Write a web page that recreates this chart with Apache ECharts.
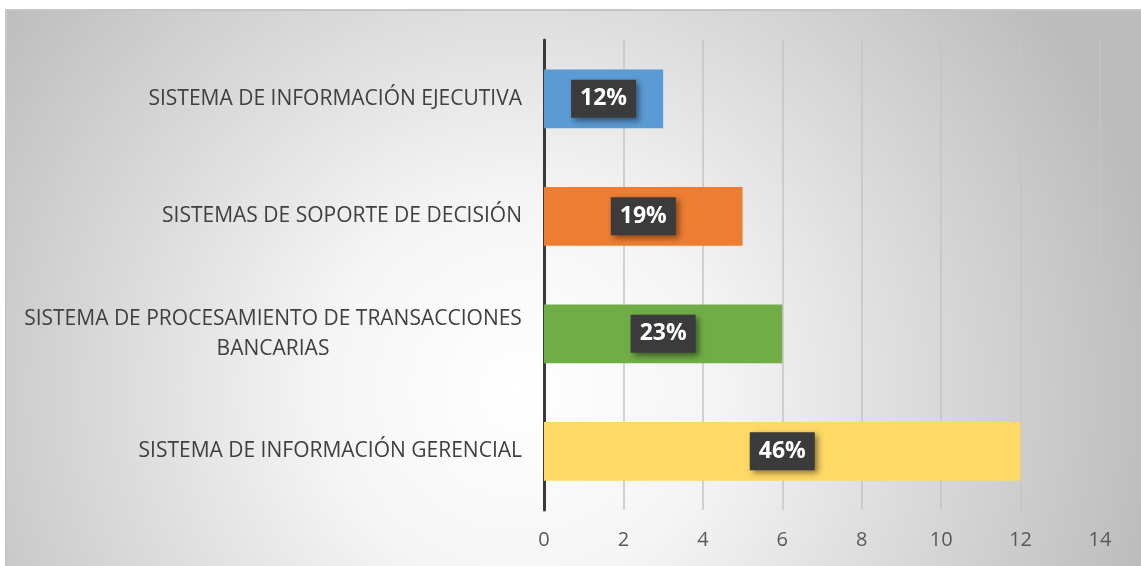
<!DOCTYPE html>
<html>
<head>
<meta charset="utf-8">
<script src="https://cdn.jsdelivr.net/npm/echarts@6/dist/echarts.min.js"></script>
<style>
  html, body { margin: 0; padding: 0; background: #fff; }
  #chart { width: 1141px; height: 566px; }
</style>
</head>
<body>
<div id="chart"></div>
<script>
// categories from top to bottom
const categories = [
    'SISTEMA DE INFORMACIÓN EJECUTIVA',
    'SISTEMAS DE SOPORTE DE DECISIÓN',
    'SISTEMA DE PROCESAMIENTO DE TRANSACCIONES\nBANCARIAS',
    'SISTEMA DE INFORMACIÓN GERENCIAL'
];
const values = [3, 5, 6, 12];
const percentLabels = ['12%', '19%', '23%', '46%'];
const barColors = ['#5B9BD5', '#ED7D31', '#70AD47', '#FFD966'];

const chart = echarts.init(document.getElementById('chart'));

chart.setOption({
    animation: false,
    textStyle: { fontFamily: 'Open Sans' },
    graphic: [{
        type: 'rect',
        z: -10,
        silent: true,
        shape: { x: 6, y: 10, width: 1140, height: 560 },
        style: {
            fill: new echarts.graphic.RadialGradient(0.45, 0.68, 1.15, [
                { offset: 0, color: '#ffffff' },
                { offset: 0.3, color: '#f5f5f5' },
                { offset: 1, color: '#bcbcbc' }
            ]),
            stroke: '#c6c6c6',
            lineWidth: 2
        }
    }],
    grid: {
        left: 544,
        right: 41,
        top: 40,
        bottom: 56
    },
    xAxis: {
        type: 'value',
        min: 0,
        max: 14,
        interval: 2,
        axisLine: { show: false },
        axisTick: { show: false },
        splitLine: { lineStyle: { color: '#c4c4c4', width: 1.5 } },
        axisLabel: { color: '#595959', fontSize: 20, margin: 20 }
    },
    yAxis: {
        type: 'category',
        inverse: true,
        data: categories,
        axisLine: { lineStyle: { color: '#3a3a3a', width: 3 } },
        axisTick: { length: 6, lineStyle: { color: '#3a3a3a', width: 3 } },
        axisLabel: {
            color: '#404040',
            fontSize: 21,
            margin: 22,
            lineHeight: 30,
            align: 'right',
            // wrapped labels are centred line by line, like the original
            formatter: v => v.indexOf('\n') < 0 ? v
                : v.split('\n').map(s => '{c|' + s + '}').join('\n'),
            rich: {
                c: { width: 498, align: 'center', fontSize: 21, lineHeight: 30, color: '#404040' }
            }
        }
    },
    series: [{
        type: 'bar',
        barWidth: '50%',
        data: values.map((v, i) => ({
            value: v,
            itemStyle: { color: barColors[i] }
        })),
        label: {
            show: true,
            position: 'inside',
            formatter: p => percentLabels[p.dataIndex],
            color: '#ffffff',
            fontWeight: 'bold',
            fontSize: 23,
            backgroundColor: '#3b3b3b',
            padding: [8, 9, 7, 9],
            shadowBlur: 6,
            shadowColor: 'rgba(0,0,0,0.45)',
            shadowOffsetX: 3,
            shadowOffsetY: 3
        }
    }]
});
</script>
</body>
</html>
